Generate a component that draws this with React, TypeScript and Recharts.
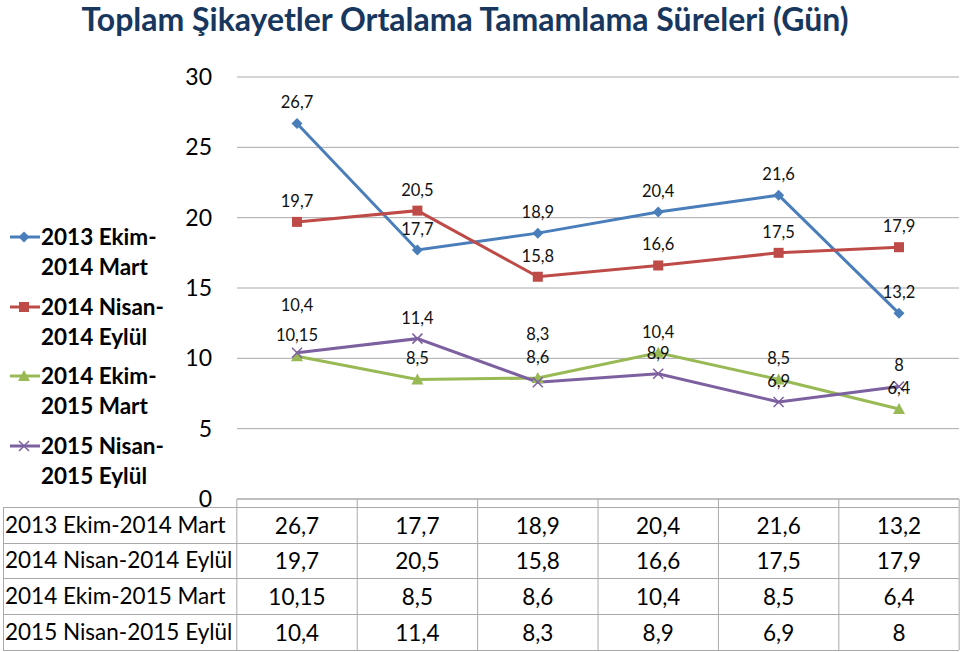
import React from 'react';
import { LineChart, Line, XAxis, YAxis, CartesianGrid, LabelList } from 'recharts';

const periods = ['P1', 'P2', 'P3', 'P4', 'P5', 'P6'];
const seriesNames = ['2013 Ekim-2014 Mart', '2014 Nisan-2014 Eylül', '2014 Ekim-2015 Mart', '2015 Nisan-2015 Eylül'];
const legendLines = [['2013 Ekim-', '2014 Mart'], ['2014 Nisan-', '2014 Eylül'], ['2014 Ekim-', '2015 Mart'], ['2015 Nisan-', '2015 Eylül']];
const s1 = [26.7, 17.7, 18.9, 20.4, 21.6, 13.2];
const s2 = [19.7, 20.5, 15.8, 16.6, 17.5, 17.9];
const s3 = [10.15, 8.5, 8.6, 10.4, 8.5, 6.4];
const s4 = [10.4, 11.4, 8.3, 8.9, 6.9, 8];
const yTicks = [0, 5, 10, 15, 20, 25, 30];

const allSeries = [s1, s2, s3, s4];
const keys = ['s1', 's2', 's3', 's4'];
const colors = ['#4A7EBB', '#BE4B48', '#98B954', '#7D60A0'];

const data = periods.map((p, i) => ({ name: p, s1: s1[i], s2: s2[i], s3: s3[i], s4: s4[i] }));

const fmt = (v: number) => String(v).replace('.', ',');
const FONT = 'Lato, "Liberation Sans", sans-serif';
const BAND = 120.33;
const GRID = '#A9A9A9';

// label offset above point; two purple labels pushed up to clear the green ones
const labelLift = (series: number, idx: number) => (series === 3 && (idx === 0 || idx === 2) ? 48 : 21);

const Marker = ({ cx, cy, kind, color }: any) => {
  if (cx == null || cy == null) return null;
  if (kind === 0) {
    return <path d={`M${cx},${cy - 5.5}L${cx + 5.5},${cy}L${cx},${cy + 5.5}L${cx - 5.5},${cy}Z`} fill={color} />;
  }
  if (kind === 1) {
    return <rect x={cx - 5} y={cy - 5} width={10} height={10} fill={color} />;
  }
  if (kind === 2) {
    return <path d={`M${cx},${cy - 6}L${cx + 6},${cy + 5}L${cx - 6},${cy + 5}Z`} fill={color} />;
  }
  return (
    <path d={`M${cx - 5},${cy - 5}L${cx + 5},${cy + 5}M${cx + 5},${cy - 5}L${cx - 5},${cy + 5}`} stroke={color} strokeWidth={1.5} />
  );
};

const TableColumn = (props: any) => {
  const { x, y, payload } = props;
  const i = payload.index;
  const left = x - BAND / 2;
  const rowCenters = [26, 61, 97, 133];
  return (
    <g>
      <line x1={left} x2={left} y1={y} y2={y + 151} stroke={GRID} strokeWidth={1} />
      {i === periods.length - 1 && (
        <line x1={left + BAND} x2={left + BAND} y1={y} y2={y + 151} stroke={GRID} strokeWidth={1} />
      )}
      {allSeries.map((s, r) => (
        <text key={r} x={x} y={y + rowCenters[r]} textAnchor="middle" dominantBaseline="central"
          fontSize={22.5} fill="#000" fontFamily={FONT}>
          {fmt(s[i])}
        </text>
      ))}
    </g>
  );
};

const makeLabel = (series: number) => (props: any) => {
  const { x, y, value, index } = props;
  return (
    <text x={x} y={y - labelLift(series, index)} textAnchor="middle" dominantBaseline="central"
      fontSize={16.5} fill="#111" fontFamily={FONT}>
      {fmt(value)}
    </text>
  );
};

const App: React.FC = () => {
  const rowLines = [507, 543, 578, 614, 650];
  const rowMid = [525, 560, 596, 632];
  return (
    <div style={{ position: 'absolute', left: 0, top: 0, width: 960, height: 652, background: '#fff', fontFamily: FONT, overflow: 'hidden' }}>
      <div style={{ position: 'absolute', left: 0, top: 0, width: 930, textAlign: 'center', fontSize: 32, fontWeight: 700, color: '#17375E', lineHeight: '38px' }}>
        Toplam Şikayetler Ortalama Tamamlama Süreleri (Gün)
      </div>

      <LineChart width={960} height={652} data={data} margin={{ top: 77, right: 1, bottom: 0, left: 187 }}>
        <CartesianGrid vertical={false} stroke={GRID} />
        <XAxis dataKey="name" height={153} padding={{ left: 60, right: 60 }} axisLine={{ stroke: GRID }}
          tickLine={false} tickSize={0} tickMargin={0} interval={0} tick={<TableColumn />} />
        <YAxis width={50} domain={[0, 30]} ticks={yTicks} axisLine={false} tickLine={false} tickSize={0} tickMargin={25}
          tick={{ fill: '#000', fontSize: 23, fontFamily: FONT }} />
        {keys.map((k, si) => (
          <Line key={k} dataKey={k} name={seriesNames[si]} stroke={colors[si]} strokeWidth={3}
            isAnimationActive={false}
            dot={(p: any) => <Marker key={`${k}-${p.index}`} cx={p.cx} cy={p.cy} kind={si} color={colors[si]} />}>
            <LabelList dataKey={k} content={makeLabel(si)} />
          </Line>
        ))}
      </LineChart>

      {/* row headers of the data table */}
      {rowLines.map((ly) => (
        <div key={ly} style={{ position: 'absolute', left: 3, top: ly, width: 956, height: 1, background: GRID }} />
      ))}
      <div style={{ position: 'absolute', left: 3, top: 507, width: 1, height: 144, background: GRID }} />
      {seriesNames.map((n, r) => (
        <div key={n} style={{ position: 'absolute', left: 5, top: rowMid[r] - 14, height: 28, lineHeight: '28px', fontSize: 22.5, color: '#000', whiteSpace: 'nowrap' }}>
          {n}
        </div>
      ))}

      {/* legend */}
      {legendLines.map((lines, r) => {
        const top = 222 + r * 69.5;
        return (
          <div key={r} style={{ position: 'absolute', left: 0, top }}>
            <svg width={42} height={30} style={{ position: 'absolute', left: 0, top: 0 }}>
              <line x1={10} x2={40} y1={15} y2={15} stroke={colors[r]} strokeWidth={3} />
              <Marker cx={24} cy={15} kind={r} color={colors[r]} />
            </svg>
            {lines.map((t, j) => (
              <div key={j} style={{ position: 'absolute', left: 41, top: j * 30, height: 30, lineHeight: '30px', fontSize: 22.5, fontWeight: 700, color: '#000', whiteSpace: 'nowrap' }}>
                {t}
              </div>
            ))}
          </div>
        );
      })}
    </div>
  );
};

export default App;
